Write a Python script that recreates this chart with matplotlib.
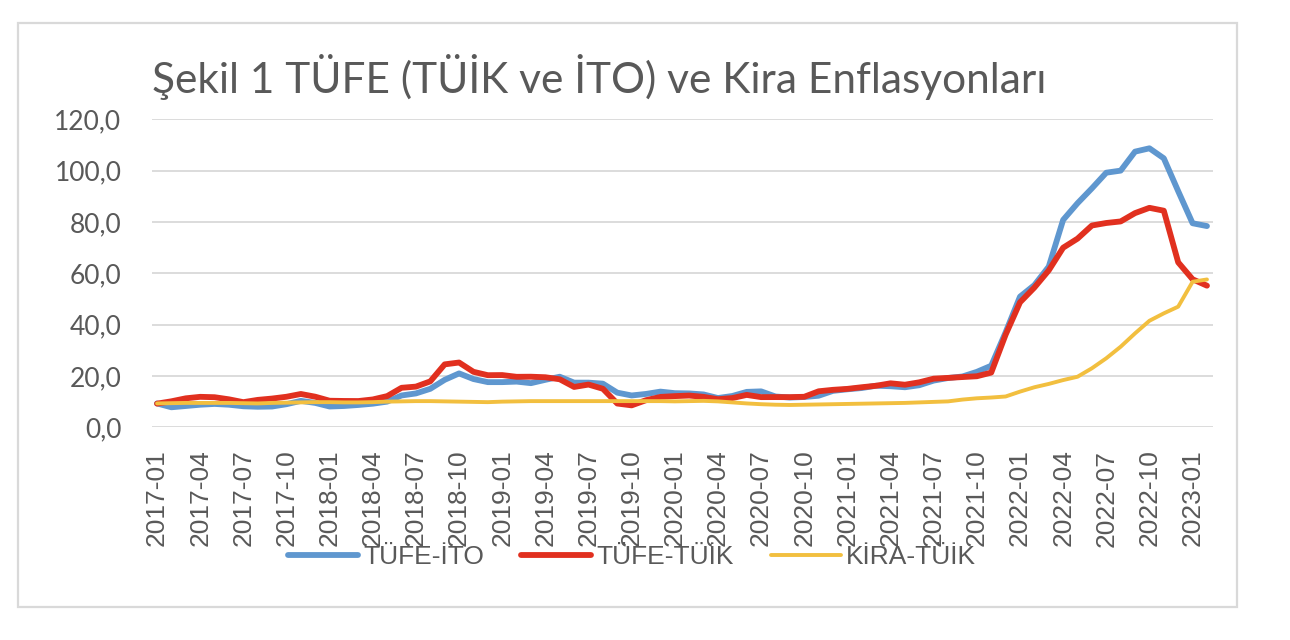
import numpy as np
import pandas as pd
import matplotlib
matplotlib.use('Agg')
import matplotlib.pyplot as plt
from matplotlib.patches import Rectangle

# aylar: 2017-01 .. 2023-02
months = pd.period_range('2017-01', '2023-02', freq='M').strftime('%Y-%m').tolist()

tufe_ito = [
    9.3, 7.8, 8.3, 8.8, 9.1, 8.8, 8.2, 8.0, 8.1, 9.0, 10.3, 9.5,
    8.1, 8.3, 8.7, 9.2, 10.0, 12.4, 13.2, 15.0, 18.5, 21.0, 18.8, 17.6,
    17.6, 17.8, 17.2, 18.5, 19.7, 17.4, 17.4, 17.0, 13.5, 12.4, 13.0, 13.9,
    13.3, 13.2, 12.8, 11.4, 12.2, 13.8, 14.0, 12.0, 11.6, 11.8, 12.3, 14.2,
    14.8, 15.3, 16.2, 16.0, 15.6, 16.4, 18.2, 19.2, 19.8, 21.6, 24.0, 37.0,
    50.9, 55.4, 62.6, 80.8, 87.3, 93.1, 99.2, 100.0, 107.4, 108.7, 104.8, 92.0,
    79.5, 78.4,
]
tufe_tuik = [
    9.22, 10.13, 11.29, 11.87, 11.72, 10.90, 9.79, 10.68, 11.20, 11.90, 12.98, 11.92,
    10.35, 10.26, 10.23, 10.85, 12.15, 15.39, 15.85, 17.90, 24.52, 25.24, 21.62, 20.30,
    20.35, 19.67, 19.71, 19.50, 18.71, 15.72, 16.65, 15.01, 9.26, 8.55, 10.56, 11.84,
    12.15, 12.37, 11.86, 10.94, 11.39, 12.62, 11.76, 11.77, 11.75, 11.89, 14.03, 14.60,
    14.97, 15.61, 16.19, 17.14, 16.59, 17.53, 18.95, 19.25, 19.58, 19.89, 21.31, 36.08,
    48.69, 54.44, 61.14, 69.97, 73.50, 78.62, 79.60, 80.21, 83.45, 85.51, 84.39, 64.27,
    57.68, 55.18,
]
kira_tuik = [
    9.3, 9.4, 9.5, 9.5, 9.5, 9.5, 9.4, 9.3, 9.5, 9.6, 9.7, 9.8,
    9.8, 9.7, 9.7, 9.8, 10.0, 10.1, 10.2, 10.2, 10.1, 10.0, 9.9, 9.8,
    10.0, 10.1, 10.2, 10.2, 10.2, 10.2, 10.2, 10.2, 10.2, 10.2, 10.2, 10.2,
    10.1, 10.2, 10.3, 10.1, 9.7, 9.3, 9.0, 8.8, 8.7, 8.8, 8.9, 9.0,
    9.1, 9.2, 9.3, 9.4, 9.5, 9.7, 9.9, 10.1, 10.8, 11.3, 11.6, 12.0,
    13.9, 15.6, 16.9, 18.4, 19.7, 23.0, 26.9, 31.4, 36.6, 41.5, 44.4, 47.0,
    56.7, 57.6,
]

gray = '#595959'
fig = plt.figure(figsize=(12.9, 6.4), dpi=100)
ax = fig.add_axes([152 / 1290, 1 - 427.3 / 640, (1213 - 152) / 1290, (427.3 - 119.3) / 640])

# grafik alanı çerçevesi
fig.patches.append(Rectangle((18 / 1290, 1 - 607 / 640), (1237 - 18) / 1290, (607 - 23) / 640,
                             transform=fig.transFigure, fill=False,
                             edgecolor='#d9d9d9', linewidth=1.6))

x = np.arange(len(months))
ax.plot(x, tufe_ito, color='#5F97CF', linewidth=4.2, label='TÜFE-İTO', solid_capstyle='round')
ax.plot(x, tufe_tuik, color='#E1301F', linewidth=4.2, label='TÜFE-TÜİK', solid_capstyle='round')
ax.plot(x, kira_tuik, color='#F2BF3F', linewidth=2.8, label='KİRA-TÜİK', solid_capstyle='round')

ax.set_xlim(-0.35, 73.42)
ax.set_ylim(0, 120)
ax.set_yticks(np.arange(0, 121, 20))
ax.set_yticklabels(['{:.1f}'.format(v).replace('.', ',') for v in np.arange(0, 121, 20)],
                   fontfamily='Lato', fontsize=19, color=gray)
ax.set_xticks(x[::3])
ax.set_xticklabels(months[::3], rotation=90, fontfamily='Liberation Sans', fontsize=19, color=gray)
ax.tick_params(axis='x', length=0, pad=16)
ax.tick_params(axis='y', length=0, pad=22)
ax.grid(axis='y', color='#d9d9d9', linewidth=1.3)
ax.set_axisbelow(True)
for s in ax.spines.values():
    s.set_visible(False)

fig.text(152 / 1290, 1 - 93 / 640, 'Şekil 1 TÜFE (TÜİK ve İTO) ve Kira Enflasyonları',
         fontfamily='Lato', fontsize=30.5, color=gray, ha='left', va='baseline')

leg = fig.legend(loc='center', bbox_to_anchor=(632 / 1290, 1 - 557 / 640), ncol=3, frameon=False,
                 prop={'family': 'Liberation Sans', 'size': 19},
                 handlelength=2.65, handletextpad=0.2, columnspacing=1.4)
for t in leg.get_texts():
    t.set_color(gray)

fig.savefig('out.png', dpi=100)
